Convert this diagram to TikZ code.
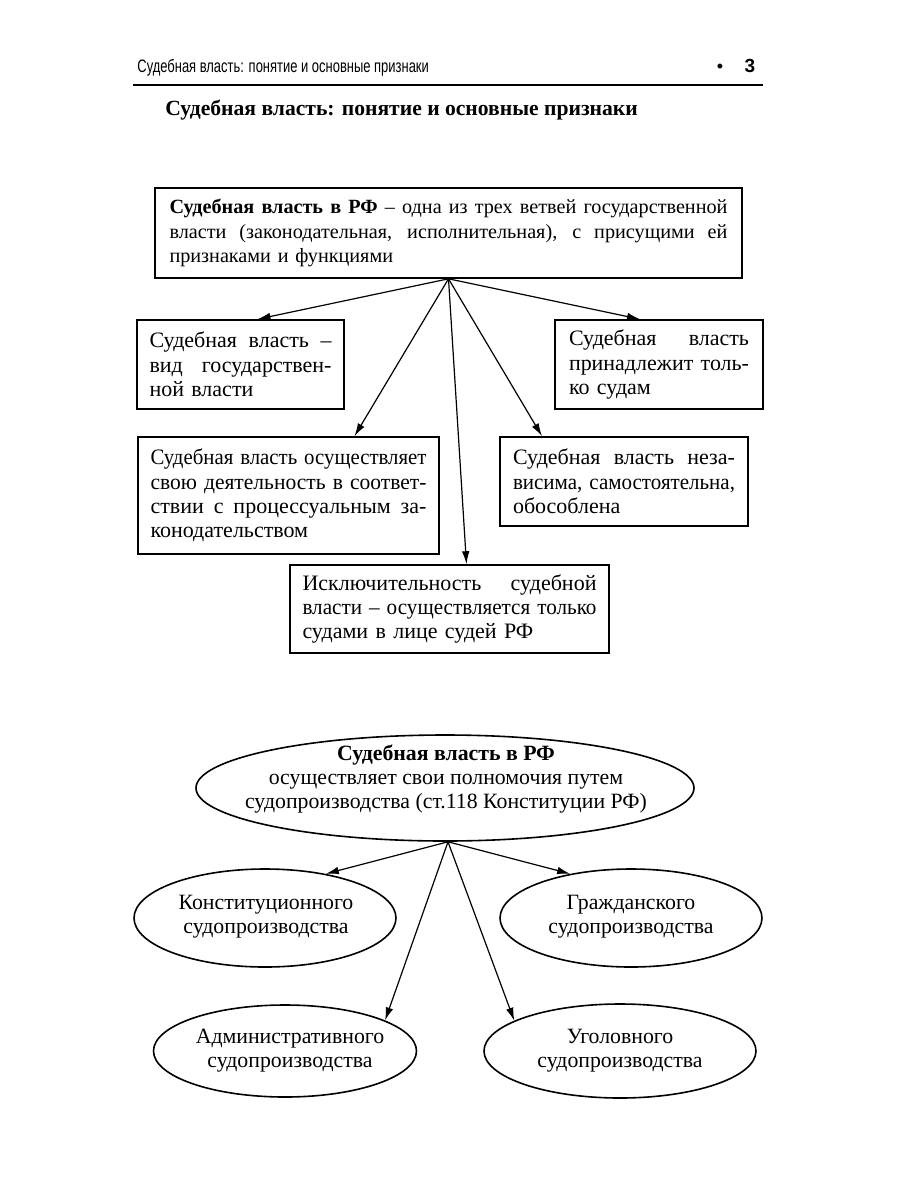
\documentclass[tikz,border=0pt]{standalone}
\usepackage{fontspec}
\usepackage{graphicx}
\setmainfont{Liberation Serif}
\newfontfamily\hdrfont[FakeStretch=0.72]{Liberation Sans}
\newfontfamily\numfont{Liberation Sans}
\usetikzlibrary{shapes.geometric,arrows.meta,calc}
\newsavebox\jlbox
\newcommand{\jl}[2]{\leavevmode\sbox\jlbox{#2}%
  \ifdim\wd\jlbox>#1\relax\resizebox{#1}{\height}{\usebox\jlbox}%
  \else\hbox to #1{\spaceskip=0.25em plus 1.5em minus 0.06em\relax #2}\fi}
\begin{document}
\begin{tikzpicture}[x=0.5pt,y=-0.5pt,
  every node/.style={font=\fontsize{10pt}{12.3pt}\selectfont},
  boxn/.style={draw,line width=0.8pt,rectangle,inner sep=0pt,align=left},
  bigf/.style={font=\fontsize{11pt}{12.2pt}\selectfont},
  elln/.style={draw,line width=0.8pt,ellipse,inner sep=0pt},
  txt/.style={align=center,inner sep=0pt,font=\fontsize{10.9pt}{12pt}\selectfont},
  arr/.style={line width=0.6pt,-{Latex[length=6.5pt,width=3.8pt]}},
]
\useasboundingbox[fill=white] (0,0) rectangle (900,1200);

% header
\node[anchor=base west,inner sep=0pt,font=\hdrfont\fontsize{9pt}{10pt}\selectfont] (hdr) at (137,72) {Судебная власть: понятие и основные признаки};
\node[anchor=base,inner sep=0pt,font=\numfont\fontsize{9pt}{10pt}\selectfont] (bul) at (720,72) {•};
\node[anchor=base,inner sep=0pt,font=\numfont\bfseries\fontsize{9.5pt}{10pt}\selectfont] (pg) at (750,72) {3};
\coordinate (r1) at (133,85);
\coordinate (r2) at (763,85);
\draw[line width=1pt] (r1) -- (r2);

% title
\node[anchor=base west,inner sep=0pt,font=\bfseries\fontsize{10.8pt}{12pt}\selectfont] (title) at (165,115) {Судебная власть: понятие и основные признаки};

% boxes
\node[boxn,minimum width=293.5pt,minimum height=45pt,text width=279pt,font=\fontsize{10.1pt}{12.3pt}\selectfont] (top) at (448.5,233)
 {\jl{279pt}{\textbf{Судебная власть в РФ} – одна из трех ветвей государственной}\\\jl{279pt}{власти (законодательная, исполнительная), с присущими ей}\\признаками и функциями};
\node[boxn,bigf,minimum width=103.5pt,minimum height=44.5pt,text width=91pt] (a) at (240.5,364.5)
 {\jl{91pt}{Судебная власть –}\\\jl{91pt}{вид государствен-}\\ной власти};
\node[boxn,bigf,minimum width=104pt,minimum height=44.5pt,text width=90pt] (b) at (659,364.5)
 {\jl{90pt}{Судебная власть}\\\jl{90pt}{принадлежит толь-}\\ко судам};
\node[boxn,bigf,minimum width=150.5pt,minimum height=58.5pt,text width=138pt] (c) at (288.5,495.5)
 {\jl{138pt}{Судебная власть осуществляет}\\\jl{138pt}{свою деятельность в соответ-}\\\jl{138pt}{ствии с процессуальным за-}\\конодательством};
\node[boxn,bigf,minimum width=124pt,minimum height=44.5pt,text width=111pt] (d) at (624,481.5)
 {\jl{111pt}{Судебная власть неза-}\\\jl{111pt}{висима, самостоятельна,}\\обособлена};
\node[boxn,bigf,minimum width=159.5pt,minimum height=44pt,text width=147pt] (e) at (449.5,609)
 {\jl{147pt}{Исключительность судебной}\\\jl{147pt}{власти – осуществляется только}\\судами в лице судей РФ};

\draw[arr] (top.south) -- ($(a.north)+(17,0)$);
\draw[arr] (top.south) -- ($(b.north)+(-19,0)$);
\draw[arr] (top.south) -- ($(c.north)+(66,0)$);
\draw[arr] (top.south) -- ($(d.north)+(-82,0)$);
\draw[arr] (top.south) -- ($(e.north)+(17,0)$);

% ellipses
\node[elln,minimum width=249pt,minimum height=53pt] (m) at (445,788) {};
\node[txt] (mt) at (446,779) {\textbf{Судебная власть в РФ}\\осуществляет свои полномочия путем\\судопроизводства (ст.118 Конституции РФ)};
\node[elln,minimum width=131pt,minimum height=49pt] (k) at (265,918) {};
\node[txt] (kt) at (266,917) {Конституционного\\судопроизводства};
\node[elln,minimum width=131pt,minimum height=49pt] (g) at (631,918) {};
\node[txt] (gt) at (631,917) {Гражданского\\судопроизводства};
\node[elln,minimum width=131.5pt,minimum height=46pt] (adm) at (285,1051) {};
\node[txt] (admt) at (290,1051) {Административного\\судопроизводства};
\node[elln,minimum width=136pt,minimum height=47pt] (u) at (620,1051) {};
\node[txt] (ut) at (620,1051) {Уголовного\\судопроизводства};

\coordinate (s2) at ($(m.south)+(3,0)$);
\draw[arr] (s2) -- (k.36);
\draw[arr] (s2) -- (g.144);
\draw[arr] (s2) -- (adm.17);
\draw[arr] (s2) -- (u.164);
\end{tikzpicture}
\end{document}
